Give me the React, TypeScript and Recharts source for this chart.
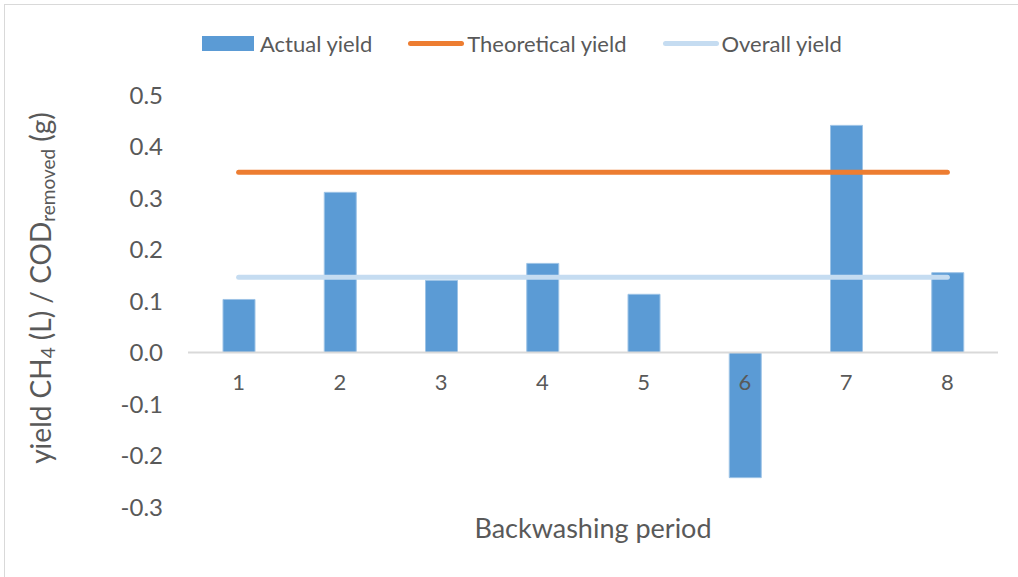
import { Bar, ComposedChart, Legend, Line, ReferenceLine, XAxis, YAxis } from 'recharts';

const categories = ['1', '2', '3', '4', '5', '6', '7', '8'];
const actualYield = [0.103, 0.311, 0.14, 0.173, 0.113, -0.243, 0.441, 0.155];
const theoreticalYield = [0.35, 0.35, 0.35, 0.35, 0.35, 0.35, 0.35, 0.35];
const overallYield = [0.146, 0.146, 0.146, 0.146, 0.146, 0.146, 0.146, 0.146];
const yTicks = [-0.3, -0.2, -0.1, 0, 0.1, 0.2, 0.3, 0.4, 0.5];

const data = categories.map((c, i) => ({
  period: c,
  actual: actualYield[i],
  theoretical: theoreticalYield[i],
  overall: overallYield[i],
}));

const FONT = 'Lato, "Open Sans", sans-serif';
const TXT = '#595959';

const legendItems = [
  { label: 'Actual yield', kind: 'rect', color: '#5B9BD5' },
  { label: 'Theoretical yield', kind: 'line', color: '#ED7D31' },
  { label: 'Overall yield', kind: 'line', color: '#C5DCF1' },
];

function LegendBox() {
  return (
    <div style={{ display: 'flex', paddingLeft: 202, height: 26, fontFamily: FONT, fontSize: 22, color: TXT }}>
      {legendItems.map((it) => (
        <div key={it.label} style={{ display: 'flex', alignItems: 'center', marginRight: 36 }}>
          {it.kind === 'rect' ? (
            <span style={{ width: 52, height: 15, background: it.color, marginRight: 6 }} />
          ) : (
            <span style={{ width: 56, height: 5, borderRadius: 3, background: it.color, marginRight: 3 }} />
          )}
          <span>{it.label}</span>
        </div>
      ))}
    </div>
  );
}

function XTick(props: any) {
  const { x, y, payload } = props;
  return (
    <text x={x} y={y} dy={-134} textAnchor="middle" dominantBaseline="central" fill={TXT} fontSize={22} fontFamily={FONT}>
      {payload.value}
    </text>
  );
}

function YTitle(props: any) {
  const vb = props.viewBox;
  const cx = 40;
  const cy = vb.y + vb.height / 2 - 13;
  return (
    <text transform={`translate(${cx},${cy}) rotate(-90)`} textAnchor="middle" dominantBaseline="central" fill={TXT} fontSize={28} fontFamily={FONT}>
      <tspan>yield CH</tspan>
      <tspan fontSize={19} dy={7}>4</tspan>
      <tspan dy={-7}> (L) / COD</tspan>
      <tspan fontSize={19} dy={7}>removed</tspan>
      <tspan dy={-7}> (g)</tspan>
    </text>
  );
}

export default function App() {
  return (
    <div style={{ position: 'absolute', left: 0, top: 0, width: 1018, height: 577, background: '#fff', overflow: 'hidden' }}>
      <div style={{ position: 'absolute', left: 4, top: 4, width: 1100, height: 700, borderLeft: '1px solid #d9d9d9', borderTop: '1px solid #d9d9d9' }} />
      <ComposedChart width={1018} height={577} data={data} margin={{ top: 69, right: 20, bottom: 0, left: 88 }}>
        <ReferenceLine y={0} stroke="#d9d9d9" strokeWidth={2} />
        <XAxis dataKey="period" axisLine={false} tickLine={false} tick={<XTick />} height={70}
          label={{ value: 'Backwashing period', position: 'insideBottom', offset: 39, fill: TXT, fontSize: 27, fontFamily: FONT }} />
        <YAxis domain={[-0.3, 0.5]} ticks={yTicks} width={100} axisLine={false} tickLine={false} tickMargin={19}
          tickFormatter={(v: number) => v.toFixed(1)} tick={{ fill: TXT, fontSize: 24, fontFamily: FONT }}
          label={<YTitle />} />
        <Legend verticalAlign="top" content={<LegendBox />} wrapperStyle={{ top: 30, left: 0, width: 1018 }} />
        <Bar dataKey="actual" name="Actual yield" fill="#5B9BD5" stroke="#9DC3E6" strokeWidth={1} barSize={32} isAnimationActive={false} />
        <Line dataKey="theoretical" name="Theoretical yield" stroke="#ED7D31" strokeWidth={5} strokeLinecap="round" dot={false} isAnimationActive={false} />
        <Line dataKey="overall" name="Overall yield" stroke="#C5DCF1" strokeWidth={5} strokeLinecap="round" dot={false} isAnimationActive={false} />
      </ComposedChart>
    </div>
  );
}
